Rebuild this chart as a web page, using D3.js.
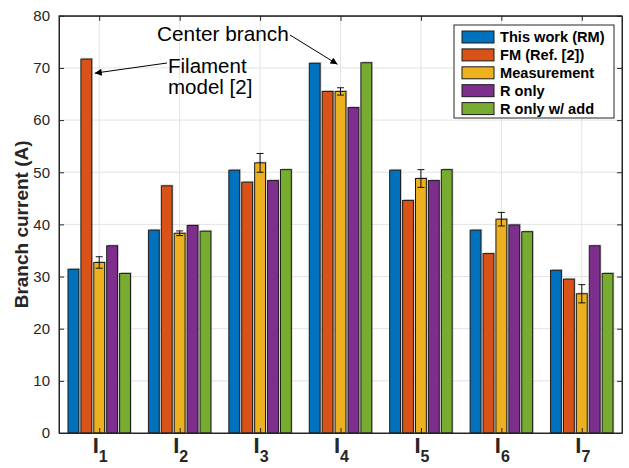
<!DOCTYPE html>
<html>
<head>
<meta charset="utf-8">
<script src="https://cdn.jsdelivr.net/npm/d3@7"></script>
<style>
  html, body { margin: 0; padding: 0; background: #fff; }
  svg { display: block; font-family: "Liberation Sans", Arial, Helvetica, sans-serif; }
</style>
</head>
<body>
<svg id="chart" width="629" height="468"></svg>
<script>
// Branch currents I1..I7 for each model / measurement (A)
const categories = ["1", "2", "3", "4", "5", "6", "7"];
const seriesNames = ["This work (RM)", "FM (Ref. [2])", "Measurement", "R only", "R only w/ add"];
const thisWork   = [31.4, 38.9, 50.4, 70.9, 50.4, 38.9, 31.2];
const filament   = [71.7, 47.4, 48.1, 65.5, 44.6, 34.4, 29.5];
const measured   = [32.7, 38.3, 51.8, 65.5, 48.8, 41.0, 26.7];
const measuredErr = [1.1, 0.45, 1.8, 0.7, 1.7, 1.3, 1.75];
const rOnly      = [35.9, 39.8, 48.4, 62.4, 48.4, 39.9, 35.9];
const rOnlyAdd   = [30.6, 38.7, 50.5, 71.0, 50.5, 38.6, 30.6];
const yTicks = [0, 10, 20, 30, 40, 50, 60, 70, 80];

const seriesValues = [thisWork, filament, measured, rOnly, rOnlyAdd];
const colors = ["#0072BD", "#D95319", "#EDB120", "#7E2F8E", "#77AC30"];
const axisColor = "#262626";

const svg = d3.select("#chart");
const plot = { left: 59, right: 622, top: 15.8, bottom: 433 };

const x = d3.scaleLinear().domain([0.5, 7.5]).range([plot.left, plot.right]);
const y = d3.scaleLinear().domain([0, 80]).range([plot.bottom, plot.top]);
// offsets of the five bars inside a group, in x units
const inner = d3.scaleBand().domain(d3.range(5)).range([-0.3883, 0.3883]).paddingInner(0.16);

// grid
const grid = svg.append("g");
grid.selectAll("line.gy").data(yTicks.slice(1, -1)).join("line")
  .attr("x1", plot.left).attr("x2", plot.right)
  .attr("y1", d => y(d)).attr("y2", d => y(d))
  .attr("stroke", "#e3e3e3").attr("stroke-width", 1);
grid.selectAll("line.gx").data(categories).join("line")
  .attr("x1", (d, i) => x(i + 1)).attr("x2", (d, i) => x(i + 1))
  .attr("y1", plot.top).attr("y2", plot.bottom)
  .attr("stroke", "#e3e3e3").attr("stroke-width", 1);

// bars
const bars = [];
seriesValues.forEach((vals, s) => {
  vals.forEach((v, i) => bars.push({ s, i, v }));
});
const i0 = d => d.i + 1;
const barX = d => x(i0(d) + inner(d.s));
const barW = x(inner.bandwidth()) - x(0);

const barG = svg.append("g");
// soft grey shadow behind each bar
barG.selectAll("rect.shadow").data(bars).join("rect")
  .attr("x", d => barX(d) + 1.3)
  .attr("y", d => y(d.v) - 1.3)
  .attr("width", barW)
  .attr("height", d => y(0) - y(d.v) + 1.3)
  .attr("fill", "#9a9a9a").attr("opacity", 0.5);
barG.selectAll("rect.bar").data(bars).join("rect")
  .attr("x", d => barX(d))
  .attr("y", d => y(d.v))
  .attr("width", barW)
  .attr("height", d => y(0) - y(d.v))
  .attr("fill", d => colors[d.s])
  .attr("stroke", "#1a1a1a").attr("stroke-width", 1);

// measurement error bars
const errG = svg.append("g").attr("stroke", "#111").attr("stroke-width", 1);
measured.forEach((v, i) => {
  const cx = x(i + 1 + inner(2) + inner.bandwidth() / 2);
  const e = measuredErr[i];
  errG.append("line").attr("x1", cx).attr("x2", cx).attr("y1", y(v + e)).attr("y2", y(v - e));
  errG.append("line").attr("x1", cx - 3.5).attr("x2", cx + 3.5).attr("y1", y(v + e)).attr("y2", y(v + e));
  errG.append("line").attr("x1", cx - 3.5).attr("x2", cx + 3.5).attr("y1", y(v - e)).attr("y2", y(v - e));
});

// axes box
svg.append("rect")
  .attr("x", plot.left).attr("y", plot.top)
  .attr("width", plot.right - plot.left).attr("height", plot.bottom - plot.top)
  .attr("fill", "none").attr("stroke", axisColor).attr("stroke-width", 1);

// y axis (left) with inward ticks
const yAxis = svg.append("g").attr("transform", `translate(${plot.left},0)`)
  .call(d3.axisLeft(y).tickValues(yTicks).tickSizeInner(-5).tickSizeOuter(0).tickPadding(9));
yAxis.select(".domain").attr("stroke", axisColor);
yAxis.selectAll(".tick line").attr("stroke", axisColor);
yAxis.selectAll(".tick text").attr("fill", axisColor)
  .style("font-size", "15px").style("font-family", "Liberation Sans, Arial, sans-serif");

// right-side ticks
svg.append("g").attr("transform", `translate(${plot.right},0)`)
  .call(d3.axisRight(y).tickValues(yTicks).tickSizeInner(-5).tickSizeOuter(0).tickFormat(""))
  .call(g => g.select(".domain").attr("stroke", axisColor))
  .call(g => g.selectAll(".tick line").attr("stroke", axisColor));

// x axis with inward ticks and subscripted labels
const xAxis = svg.append("g").attr("transform", `translate(0,${plot.bottom})`)
  .call(d3.axisBottom(x).tickValues(d3.range(1, 8)).tickSizeInner(-5).tickSizeOuter(0).tickFormat(""));
xAxis.select(".domain").attr("stroke", axisColor);
xAxis.selectAll(".tick line").attr("stroke", axisColor);
svg.append("g").attr("transform", `translate(0,${plot.top})`)
  .call(d3.axisTop(x).tickValues(d3.range(1, 8)).tickSizeInner(-5).tickSizeOuter(0).tickFormat(""))
  .call(g => g.select(".domain").attr("stroke", axisColor))
  .call(g => g.selectAll(".tick line").attr("stroke", axisColor));

const xl = svg.append("g").selectAll("text").data(categories).join("text")
  .attr("x", (d, i) => x(i + 1) + 1)
  .attr("y", 453)
  .attr("text-anchor", "middle")
  .attr("fill", axisColor)
  .attr("font-weight", "bold");
xl.append("tspan").attr("font-size", "22px").text("I");
xl.append("tspan").attr("font-size", "16px").attr("dy", 9).text(d => d);

// y label
svg.append("text")
  .attr("transform", `translate(28,${(plot.top + plot.bottom) / 2}) rotate(-90)`)
  .attr("text-anchor", "middle")
  .attr("fill", axisColor)
  .attr("font-weight", "bold")
  .attr("font-size", "19px")
  .text("Branch current (A)");

// legend
const lg = svg.append("g");
lg.append("rect").attr("x", 454).attr("y", 25).attr("width", 160).attr("height", 93)
  .attr("fill", "#fff").attr("stroke", axisColor).attr("stroke-width", 1);
seriesNames.forEach((name, s) => {
  const cy = 37 + s * 17.9;
  lg.append("rect").attr("x", 462).attr("y", cy - 6).attr("width", 32).attr("height", 12)
    .attr("fill", colors[s]).attr("stroke", "#1a1a1a").attr("stroke-width", 1);
  lg.append("text").attr("x", 500).attr("y", cy + 5)
    .attr("font-size", "14.6px").attr("font-weight", "bold").attr("fill", "#000").text(name);
});

// annotations
const defs = svg.append("defs");
defs.append("marker").attr("id", "arrow")
  .attr("viewBox", "0 0 10 10").attr("refX", 10).attr("refY", 5)
  .attr("markerWidth", 9).attr("markerHeight", 7).attr("markerUnits", "userSpaceOnUse")
  .attr("orient", "auto")
  .append("path").attr("d", "M0,0 L10,5 L0,10 z").attr("fill", "#000");

const fmRight = x(1 + inner(1) + inner.bandwidth()) + 3;
svg.append("line")
  .attr("x1", 167).attr("y1", 63)
  .attr("x2", fmRight).attr("y2", y(69))
  .attr("stroke", "#000").attr("stroke-width", 1).attr("marker-end", "url(#arrow)");
svg.append("text").attr("x", 168).attr("y", 73).attr("font-size", "20.5px").attr("fill", "#000").text("Filament");
svg.append("text").attr("x", 168).attr("y", 94).attr("font-size", "20.5px").attr("fill", "#000").text("model [2]");

svg.append("line")
  .attr("x1", 290).attr("y1", 35)
  .attr("x2", x(4) - 3).attr("y2", y(70.7))
  .attr("stroke", "#000").attr("stroke-width", 1).attr("marker-end", "url(#arrow)");
svg.append("text").attr("x", 157).attr("y", 41).attr("font-size", "20.8px").attr("fill", "#000").text("Center branch");
</script>
</body>
</html>
